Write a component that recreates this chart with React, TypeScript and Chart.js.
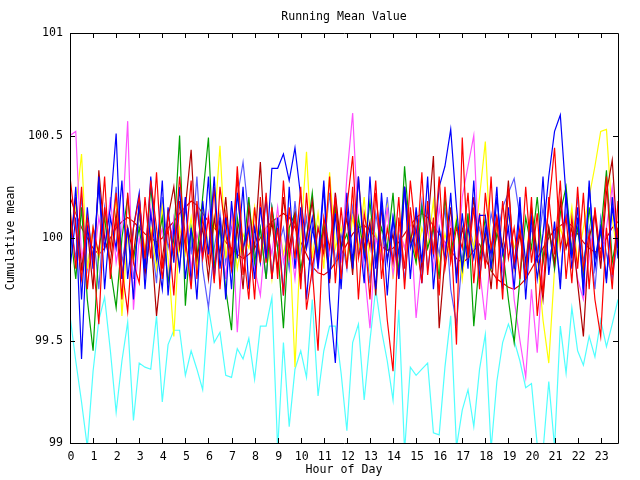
import React, { useEffect, useRef } from "react";
import { Chart, registerables } from "chart.js";

Chart.register(...registerables);

const hours = [
  0, 0.25, 0.5, 0.75, 1, 1.25, 1.5, 1.75, 2, 2.25, 2.5, 2.75,
  3, 3.25, 3.5, 3.75, 4, 4.25, 4.5, 4.75, 5, 5.25, 5.5, 5.75,
  6, 6.25, 6.5, 6.75, 7, 7.25, 7.5, 7.75, 8, 8.25, 8.5, 8.75,
  9, 9.25, 9.5, 9.75, 10, 10.25, 10.5, 10.75, 11, 11.25, 11.5, 11.75,
  12, 12.25, 12.5, 12.75, 13, 13.25, 13.5, 13.75, 14, 14.25, 14.5, 14.75,
  15, 15.25, 15.5, 15.75, 16, 16.25, 16.5, 16.75, 17, 17.25, 17.5, 17.75,
  18, 18.25, 18.5, 18.75, 19, 19.25, 19.5, 19.75, 20, 20.25, 20.5, 20.75,
  21, 21.25, 21.5, 21.75, 22, 22.25, 22.5, 22.75, 23, 23.25, 23.5, 23.75,
];

const redSeries = [
  100.30, 100.05, 99.80, 100.10, 99.90, 99.58, 100.15, 99.95, 100.22, 99.85, 99.64, 100.05,
  100.20, 99.90, 100.28, 100.05, 99.80, 100.12, 99.92, 100.30, 100.00, 99.75, 100.18, 99.90,
  100.10, 99.78, 100.25, 100.02, 99.85, 100.35, 99.95, 99.70, 100.15, 99.88, 100.22, 99.80,
  100.05, 99.72, 100.15, 99.90, 100.25, 99.65, 99.85, 99.45, 100.10, 99.95, 100.20, 99.80,
  100.15, 100.40, 99.90, 100.05, 99.70, 100.22, 99.95, 99.60, 99.35, 100.10, 99.85, 100.28,
  100.00, 99.78, 100.18, 99.92, 100.30, 99.85, 100.05, 99.48, 100.49, 99.90, 100.15, 99.75,
  100.22, 99.95, 100.10, 99.70, 100.25, 99.88, 100.05, 99.80, 100.20, 99.62, 99.90, 100.15,
  100.44, 99.95, 100.10, 99.78, 100.25, 99.85, 100.02, 99.70, 99.52, 100.05, 99.75, 100.18,
];

const red2Series = [
  100.15, 99.85, 100.25, 99.75, 100.05, 99.92, 100.30, 99.80, 100.10, 99.70, 100.22, 99.88,
  99.78, 100.20, 99.90, 100.32, 99.85, 100.05, 99.72, 100.18, 99.95, 100.28, 99.80, 100.10,
  99.88, 100.25, 99.75, 100.12, 99.92, 100.30, 99.82, 100.05, 99.70, 100.20, 99.88, 100.15,
  99.80, 100.28, 99.90, 100.10, 99.75, 100.22, 99.85, 100.05, 99.92, 100.30, 99.78, 100.15,
  99.85, 100.25, 99.70, 100.12, 99.95, 100.28, 99.80, 100.05, 99.88, 100.20, 99.75, 100.15,
  99.90, 100.32, 99.82, 100.10, 99.72, 100.25, 99.88, 100.05, 99.95, 100.22, 99.78, 100.12,
  99.85, 100.30, 99.75, 100.18, 99.90, 100.05, 99.80, 100.25, 99.88, 100.12, 99.72, 100.20,
  99.92, 100.28, 99.80, 100.10, 99.85, 100.22, 99.75, 100.15, 99.90, 100.30, 99.82, 100.05,
];

const darkRedSeries = [
  99.95, 100.20, 99.85, 100.05, 99.75, 100.33, 100.00, 99.88, 100.12, 99.80, 100.05, 99.92,
  100.15, 99.82, 100.02, 99.62, 99.90, 100.10, 100.25, 99.95, 100.15, 100.43, 99.90, 100.05,
  99.80, 100.10, 99.92, 100.20, 99.85, 100.05, 99.75, 100.15, 99.95, 100.37, 99.90, 100.08,
  99.85, 100.20, 99.95, 100.12, 99.80, 100.00, 100.18, 99.88, 100.05, 99.78, 100.22, 99.95,
  100.10, 99.82, 100.30, 99.95, 100.08, 99.72, 100.15, 99.90, 100.02, 99.80, 100.25, 99.98,
  100.12, 99.85, 100.05, 100.40, 99.56, 99.90, 100.15, 99.82, 100.05, 99.92, 100.20, 99.88,
  100.02, 99.75, 100.10, 99.95, 100.28, 99.85, 100.02, 99.80, 100.15, 99.92, 99.70, 100.05,
  99.88, 100.18, 99.95, 100.05, 99.78, 99.52, 100.00, 100.12, 99.85, 100.22, 100.38, 99.95,
];

const greenSeries = [
  100.05, 99.80, 100.15, 99.70, 99.45, 99.95, 100.10, 99.85, 99.66, 100.00, 100.20, 99.90,
  100.05, 99.85, 100.25, 99.95, 100.10, 99.78, 100.00, 100.50, 99.67, 100.05, 99.90, 100.20,
  100.49, 99.85, 100.05, 99.75, 99.55, 100.10, 99.92, 100.20, 99.88, 100.05, 99.80, 100.15,
  99.95, 99.56, 100.05, 100.12, 99.85, 100.00, 100.22, 99.90, 100.08, 99.80, 100.15, 99.95,
  100.02, 99.85, 100.10, 99.92, 100.18, 99.88, 100.05, 99.95, 100.22, 99.82, 100.35, 100.00,
  99.88, 100.15, 99.95, 100.05, 99.80, 100.20, 99.92, 100.08, 99.85, 100.12, 99.57, 99.90,
  100.10, 99.85, 100.02, 99.95, 99.70, 99.49, 99.80, 100.10, 99.95, 100.20, 99.88, 100.05,
  99.85, 100.12, 100.25, 99.92, 100.05, 99.82, 100.15, 99.90, 100.02, 100.33, 99.88, 100.05,
];

const blueSeries = [
  99.85, 100.10, 99.41, 100.05, 99.90, 100.25, 99.95, 100.15, 100.51, 99.80, 100.05, 99.70,
  100.20, 99.85, 100.30, 99.95, 99.75, 100.15, 99.88, 100.25, 99.80, 100.05, 99.70, 100.18,
  99.92, 100.30, 99.85, 100.10, 99.75, 100.22, 99.95, 100.05, 99.80, 100.15, 99.90, 100.34,
  100.34, 100.41, 100.28, 100.44, 100.20, 99.95, 100.10, 99.85, 100.25, 99.70, 99.39, 99.95,
  100.15, 99.85, 100.30, 99.90, 100.05, 99.75, 100.22, 99.88, 100.10, 99.80, 100.25, 99.95,
  100.05, 99.78, 100.15, 99.92, 100.25, 100.35, 100.53, 100.15, 99.85, 100.05, 99.90, 100.11,
  100.11, 99.85, 100.20, 99.92, 100.05, 99.75, 100.15, 99.88, 100.10, 99.80, 100.02, 100.30,
  100.52, 100.60, 100.20, 99.85, 100.10, 99.75, 100.25, 99.90, 100.05, 99.80, 100.15, 99.95,
];

const blue2Series = [
  99.90, 100.25, 99.70, 100.15, 99.85, 100.30, 99.75, 100.10, 99.95, 100.28, 99.80, 100.05,
  100.22, 99.75, 100.12, 99.90, 100.28, 99.72, 100.05, 99.85, 100.20, 99.78, 100.15, 99.92,
  100.30, 99.80, 100.10, 99.70, 100.18, 99.90, 100.25, 99.75, 100.05, 99.88, 100.20, 99.80,
  100.10, 99.72, 100.25, 99.85, 100.15, 99.70, 100.05, 99.90, 100.28, 99.80, 100.12, 99.75,
  100.22, 99.90, 100.05, 99.78, 100.30, 99.85, 100.18, 99.72, 100.10, 99.92, 100.25, 99.80,
  100.15, 99.88, 100.30, 99.75, 100.05, 99.90, 100.22, 99.78, 100.12, 99.85, 100.28, 99.80,
  100.05, 99.92, 100.25, 99.75, 100.15, 99.85, 100.20, 99.70, 100.10, 99.88, 100.30, 99.82,
  100.08, 99.75, 100.22, 99.90, 100.15, 99.72, 100.28, 99.85, 100.05, 99.78, 100.20, 99.90,
];

const lightBlueSeries = [
  100.10, 99.90, 100.20, 99.85, 100.05, 99.75, 100.15, 99.95, 100.25, 99.88, 100.05, 99.80,
  100.12, 99.90, 100.02, 99.78, 100.20, 99.95, 100.08, 99.85, 100.15, 99.92, 100.30, 99.85,
  99.66, 99.95, 100.12, 99.88, 100.05, 100.20, 100.37, 100.10, 99.90, 100.05, 99.80, 100.15,
  99.95, 100.05, 99.85, 100.18, 99.92, 100.10, 99.80, 100.05, 99.95, 100.22, 99.88, 100.02,
  99.85, 100.15, 99.92, 100.05, 99.78, 100.12, 99.95, 100.20, 99.88, 100.02, 99.80, 100.10,
  99.95, 100.18, 99.85, 100.05, 99.92, 100.15, 99.75, 99.58, 99.90, 100.10, 99.95, 100.05,
  99.88, 100.12, 100.00, 100.15, 100.22, 100.29, 100.10, 99.85, 100.05, 99.92, 100.15, 99.88,
  100.02, 99.80, 100.12, 99.95, 100.20, 99.88, 100.05, 99.75, 100.10, 99.92, 99.80, 100.00,
];

const magentaSeries = [
  100.50, 100.52, 99.90, 100.05, 99.85, 100.10, 99.95, 100.20, 99.88, 100.05, 100.57, 99.65,
  100.00, 99.85, 100.15, 99.92, 100.05, 99.78, 100.10, 99.95, 100.20, 99.85, 100.02, 99.90,
  100.12, 99.88, 100.05, 99.80, 100.15, 99.54, 99.95, 100.10, 99.85, 99.72, 100.05, 99.92,
  100.15, 99.88, 100.02, 99.80, 100.10, 99.95, 100.20, 99.85, 100.05, 99.92, 100.22, 99.88,
  100.30, 100.61, 100.05, 99.85, 99.56, 100.00, 99.90, 100.15, 99.82, 100.05, 99.95, 100.10,
  99.61, 99.90, 100.05, 99.85, 100.15, 99.95, 100.08, 99.82, 100.20, 100.35, 100.50, 99.85,
  99.60, 99.95, 100.10, 99.85, 100.05, 99.70, 99.50, 99.32, 99.75, 99.44, 99.90, 100.05,
  99.85, 100.15, 99.95, 100.02, 99.80, 99.70, 99.90, 100.12, 99.88, 100.05, 100.25, 99.95,
];

const yellowSeries = [
  100.00, 100.15, 100.41, 99.85, 100.05, 99.90, 100.10, 99.95, 100.20, 99.62, 100.02, 99.88,
  100.12, 99.95, 100.05, 99.85, 100.15, 99.90, 99.52, 100.05, 99.92, 100.10, 99.85, 100.18,
  99.95, 100.05, 100.45, 99.90, 100.10, 99.85, 100.02, 99.95, 100.15, 99.88, 100.05, 99.80,
  100.10, 99.92, 100.05, 99.37, 100.00, 100.42, 99.90, 100.12, 99.85, 100.32, 99.95, 100.05,
  99.88, 100.10, 99.95, 100.20, 99.85, 100.02, 99.92, 100.15, 99.80, 100.05, 99.95, 100.12,
  99.88, 100.05, 99.95, 100.18, 99.85, 100.02, 99.90, 100.10, 99.80, 100.05, 99.95, 100.20,
  100.47, 99.90, 100.05, 99.85, 100.12, 99.95, 100.02, 99.88, 100.15, 99.92, 99.60, 99.39,
  99.85, 100.05, 99.95, 100.15, 99.88, 100.05, 100.20, 100.35, 100.52, 100.53, 100.10, 99.90,
];

const smoothRedSeries = [
  100.20, 100.12, 100.05, 100.00, 99.95, 99.92, 99.95, 100.00, 100.05, 100.08, 100.10, 100.08,
  100.05, 100.02, 100.00, 99.98, 100.00, 100.05, 100.08, 100.12, 100.15, 100.18, 100.16, 100.12,
  100.08, 100.05, 100.02, 99.98, 99.95, 99.92, 99.90, 99.92, 99.95, 100.00, 100.05, 100.08,
  100.10, 100.12, 100.10, 100.05, 99.98, 99.92, 99.86, 99.83, 99.82, 99.84, 99.88, 99.92,
  99.97, 100.02, 100.05, 100.06, 100.04, 100.00, 99.96, 99.94, 99.95, 99.98, 100.02, 100.06,
  100.10, 100.12, 100.10, 100.06, 100.02, 99.98, 99.94, 99.90, 99.88, 99.90, 99.94, 99.97,
  99.90, 99.84, 99.80, 99.78, 99.76, 99.75, 99.77, 99.80, 99.85, 99.90, 99.95, 100.00,
  100.04, 100.06, 100.08, 100.06, 100.02, 99.98, 99.95, 99.93, 99.95, 100.00, 100.05, 100.08,
];

const cyanSeries = [
  99.62, 99.40, 99.20, 98.98, 99.35, 99.60, 99.71, 99.45, 99.15, 99.40, 99.59, 99.11,
  99.39, 99.37, 99.36, 99.62, 99.20, 99.48, 99.55, 99.55, 99.33, 99.45, 99.36, 99.26,
  99.66, 99.49, 99.54, 99.33, 99.32, 99.46, 99.41, 99.51, 99.31, 99.57, 99.57, 99.71,
  98.97, 99.49, 99.08, 99.36, 99.45, 99.32, 99.70, 99.23, 99.45, 99.57, 99.57, 99.34,
  99.06, 99.49, 99.58, 99.21, 99.50, 99.75, 99.55, 99.40, 99.21, 99.65, 98.96, 99.37,
  99.33, 99.36, 99.39, 99.05, 99.04, 99.37, 99.62, 98.98, 99.16, 99.26, 99.08, 99.36,
  99.53, 98.97, 99.30, 99.49, 99.58, 99.50, 99.40, 99.27, 99.29, 98.99, 98.96, 99.30,
  98.98, 99.57, 99.34, 99.66, 99.45, 99.38, 99.52, 99.42, 99.60, 99.47, 99.58, 99.70,
];

const xTickValues = [0, 1, 2, 3, 4, 5, 6, 7, 8, 9, 10, 11, 12, 13, 14, 15, 16, 17, 18, 19, 20, 21, 22, 23];
const yTickValues = [99, 99.5, 100, 100.5, 101];
const yTickLabels = ["99", "99.5", "100", "100.5", "101"];

const titleText = "Running Mean Value";
const xTitle = "Hour of Day";
const yTitle = "Cumulative mean";

const seriesList = [
  { name: "red", values: redSeries, color: "#ff0000" },
  { name: "blue", values: blueSeries, color: "#0000ff" },
  { name: "red2", values: red2Series, color: "#ff0000" },
  { name: "blue2", values: blue2Series, color: "#0000ff" },
  { name: "darkred", values: darkRedSeries, color: "#b00000" },
  { name: "green", values: greenSeries, color: "#00a000" },
  { name: "magenta", values: magentaSeries, color: "#ff50ff" },
  { name: "yellow", values: yellowSeries, color: "#ffff00" },
  { name: "lightblue", values: lightBlueSeries, color: "#5a5aff" },
  { name: "smoothred", values: smoothRedSeries, color: "#e00000" },
  { name: "cyan", values: cyanSeries, color: "#50ffff" },
];

const FONT = "11.6px 'DejaVu Sans Mono', monospace";

const framePlugin = {
  id: "gnuFrame",
  afterDatasetsDraw(chart: any) {
    const { ctx, chartArea } = chart;
    const xs = chart.scales.x;
    const ys = chart.scales.y;
    const { left, right, top, bottom } = chartArea;
    ctx.save();
    ctx.strokeStyle = "#000";
    ctx.lineWidth = 1;
    ctx.beginPath();
    ctx.rect(Math.round(left) + 0.5, Math.round(top) + 0.5, Math.round(right - left), Math.round(bottom - top));
    ctx.stroke();
    const tl = 5;
    ctx.beginPath();
    xTickValues.forEach((v) => {
      const px = Math.round(xs.getPixelForValue(v)) + 0.5;
      ctx.moveTo(px, bottom);
      ctx.lineTo(px, bottom - tl);
      ctx.moveTo(px, top);
      ctx.lineTo(px, top + tl);
    });
    yTickValues.forEach((v) => {
      const py = Math.round(ys.getPixelForValue(v)) + 0.5;
      ctx.moveTo(left, py);
      ctx.lineTo(left + tl, py);
      ctx.moveTo(right, py);
      ctx.lineTo(right - tl, py);
    });
    ctx.stroke();

    ctx.fillStyle = "#000";
    ctx.font = FONT;
    ctx.textBaseline = "middle";
    ctx.textAlign = "center";
    xTickValues.forEach((v) => {
      ctx.fillText(String(v), xs.getPixelForValue(v) + 1, bottom + 14);
    });
    ctx.textAlign = "right";
    yTickValues.forEach((v, i) => {
      ctx.fillText(yTickLabels[i], left - 7, ys.getPixelForValue(v));
    });
    ctx.textAlign = "center";
    const cx = (left + right) / 2;
    ctx.fillText(titleText, cx, top - 16);
    ctx.fillText(xTitle, cx, bottom + 27);
    ctx.translate(11, (top + bottom) / 2);
    ctx.rotate(-Math.PI / 2);
    ctx.fillText(yTitle, 0, 0);
    ctx.restore();
  },
};

export default function App() {
  const canvasRef = useRef<HTMLCanvasElement | null>(null);

  useEffect(() => {
    document.body.style.margin = "0";
    const canvas = canvasRef.current;
    if (!canvas) return;
    const chart = new Chart(canvas, {
      type: "line",
      data: {
        datasets: seriesList.map((s) => ({
          label: s.name,
          data: s.values.map((v, i) => ({ x: hours[i], y: v })),
          borderColor: s.color,
          backgroundColor: s.color,
          borderWidth: 1.2,
          pointRadius: 0,
          tension: 0,
          fill: false,
        })),
      },
      options: {
        responsive: false,
        animation: false,
        devicePixelRatio: 1,
        layout: { padding: { left: 70, top: 33, right: 22, bottom: 37 } },
        plugins: {
          legend: { display: false },
          tooltip: { enabled: false },
        },
        scales: {
          x: { type: "linear", min: 0, max: 23.75, display: false },
          y: { type: "linear", min: 99, max: 101, display: false },
        },
      },
      plugins: [framePlugin],
    });
    return () => chart.destroy();
  }, []);

  return (
    <div style={{ width: 640, height: 480, background: "#fff" }}>
      <canvas ref={canvasRef} width={640} height={480} style={{ display: "block" }} />
    </div>
  );
}
